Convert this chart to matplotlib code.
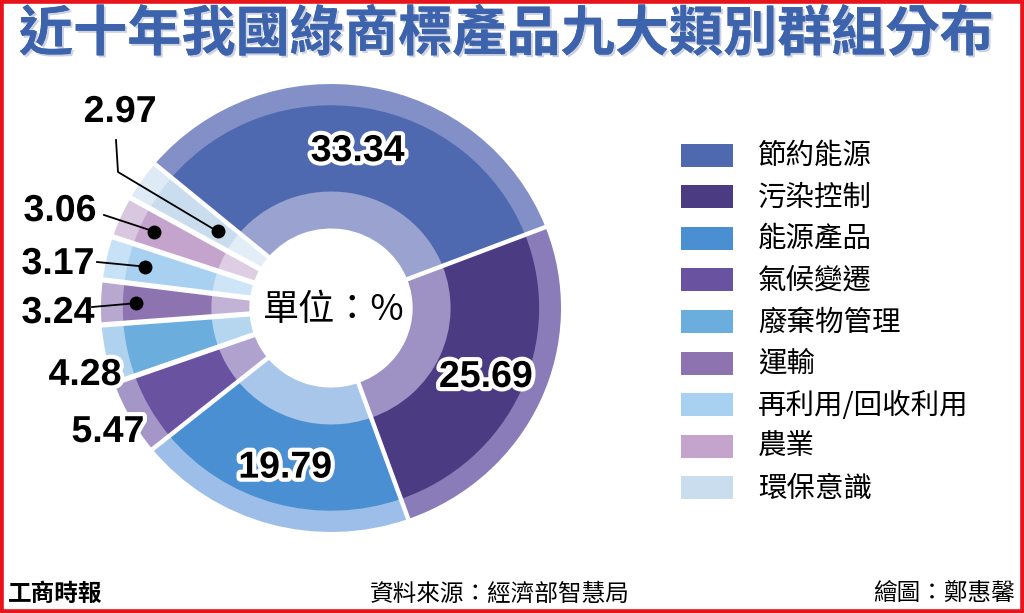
import numpy as np
import matplotlib
matplotlib.use("Agg")
import matplotlib.pyplot as plt
import matplotlib.patheffects as pe
from matplotlib.patches import Rectangle

plt.rcParams['font.family'] = ['Noto Sans CJK TC', 'DejaVu Sans']

# ---------------- data ----------------
categories = ["節約能源", "污染控制", "能源產品", "氣候變遷", "廢棄物管理",
              "運輸", "再利用/回收利用", "農業", "環保意識"]
values = [33.34, 25.69, 19.79, 5.47, 4.28, 3.24, 3.17, 3.06, 2.97]
value_labels = ["33.34", "25.69", "19.79", "5.47", "4.28", "3.24", "3.17", "3.06", "2.97"]

main_colors = ["#4F69B0", "#4B3B83", "#4A8FD2", "#6953A1", "#6BAEDD",
               "#8D73AF", "#A7D0F1", "#C4A4CC", "#CADDEF"]
rim_colors = ["#8390C8", "#8A7CB8", "#9DBEE8", "#A596C8", "#AFD3EE",
              "#B8A8D0", "#C7E1F6", "#D9C6DF", "#DEEAF5"]
inner_colors = ["#9AA3D0", "#9E91C3", "#A8C6EA", "#AFA2CF", "#B4D6EF",
                "#C2B3D6", "#CEE5F7", "#DECDE3", "#E3EDF7"]

title = "近十年我國綠商標產品九大類別群組分布"
center_text = "單位：%"
source_text = "資料來源：經濟部智慧局"
credit_text = "繪圖：鄭惠馨"
logo_text = "工商時報"

# ---------------- layout ----------------
W, H = 1024, 613
fig = plt.figure(figsize=(W / 100, H / 100), dpi=100)
fig.patch.set_facecolor("white")

cx, cy, RX, RY = 331, 308, 230, 224  # pixel centre / radii of donut (slightly wide)
ax = fig.add_axes([(cx - RX) / W, (H - cy - RY) / H, 2 * RX / W, 2 * RY / H])

start = 140
common = dict(startangle=start, counterclock=False)
ax.pie(values, radius=1.0, colors=rim_colors,
       wedgeprops=dict(width=0.10, linewidth=0), **common)
ax.pie(values, radius=0.905, colors=main_colors,
       wedgeprops=dict(width=0.39, linewidth=0), **common)
ax.pie(values, radius=0.52, colors=inner_colors,
       wedgeprops=dict(width=0.165, linewidth=0), **common)
ax.set_xlim(-1, 1)
ax.set_ylim(-1, 1)
ax.set_aspect("auto")
ax.axis("off")

vals = np.array(values)
bounds = start - np.concatenate([[0], np.cumsum(vals)]) / vals.sum() * 360
mids = (bounds[:-1] + bounds[1:]) / 2

# white separators
for i, a in enumerate(bounds[:-1]):
    t = np.deg2rad(a)
    lw = 3.2 if i < 4 else 3.8
    ax.plot([0.34 * np.cos(t), 1.03 * np.cos(t)], [0.34 * np.sin(t), 1.03 * np.sin(t)],
            color="white", lw=lw, solid_capstyle="butt", zorder=5)

stroke = [pe.withStroke(linewidth=6, foreground="white")]
num_font = dict(family=["Liberation Sans", "DejaVu Sans"], weight="bold", fontsize=27)

# big labels on the ring
for i in range(3):
    t = np.deg2rad(mids[i])
    r = 0.71 if i == 0 else 0.74
    ax.text(r * np.cos(t), r * np.sin(t), value_labels[i], ha="center", va="center",
            color="black", path_effects=stroke, zorder=10, **num_font)


def px2d(px, py):
    return (px - cx) / RX, (cy - py) / RY


# small labels (pixel positions of the text centres)
small_pos = {3: (108, 432), 4: (85, 375), 5: (58, 313), 6: (58, 264), 7: (60, 211), 8: (120, 112)}
for i, (px, py) in small_pos.items():
    x, y = px2d(px, py)
    ax.text(x, y, value_labels[i], ha="center", va="center", color="black",
            path_effects=stroke, zorder=10, clip_on=False, **num_font)

# leader lines with dots
dot_r = {5: 0.85, 6: 0.83, 7: 0.84, 8: 0.60}
line_start = {5: (92, 307), 6: (97, 262), 7: (104, 215)}
for i, r in dot_r.items():
    t = np.deg2rad(mids[i])
    dx, dy = r * np.cos(t), r * np.sin(t)
    if i == 8:
        pts = [px2d(116, 140), px2d(118, 172), (dx, dy)]
    else:
        pts = [px2d(*line_start[i]), (dx, dy)]
    xs, ys = zip(*pts)
    ax.plot(xs, ys, color="black", lw=1.3, zorder=11, clip_on=False)
    ax.plot([dx], [dy], "o", color="black", markersize=9, zorder=12, clip_on=False)

# centre text
ax.text(0.01, -0.01, center_text, ha="center", va="center", fontsize=26, color="black", zorder=10)

# ---------------- legend (manual) ----------------
for i, (lab, col) in enumerate(zip(categories, main_colors)):
    yc = 155 + i * 41.6
    fig.patches.append(Rectangle((681 / W, (H - yc - 11.5) / H), 52 / W, 23 / H,
                                 transform=fig.transFigure, facecolor=col, edgecolor="none"))
    fig.text(758 / W, (H - yc - 1) / H, lab, ha="left", va="center", fontsize=20.5, color="black")

# ---------------- title & footer ----------------
fig.text(506 / W, (H - 35) / H, title, ha="center", va="center", fontsize=39,
         fontweight="bold", color="#3D63AD",
         path_effects=[pe.withSimplePatchShadow(offset=(1.5, -1.5), shadow_rgbFace="#9aa6c0", alpha=0.5),
                       pe.Normal()])
fig.text(8 / W, (H - 594) / H, logo_text, ha="left", va="center", fontsize=17,
         fontweight="bold", color="black")
fig.text(500 / W, (H - 594) / H, source_text, ha="center", va="center", fontsize=17, color="black")
fig.text(1015 / W, (H - 594) / H, credit_text, ha="right", va="center", fontsize=17, color="black")

# red frame
fig.patches.append(Rectangle((0, 0), 1, 1, transform=fig.transFigure, fill=False,
                             edgecolor="#E8141B", linewidth=5.5))

fig.savefig("out.png", dpi=100, facecolor="white")
